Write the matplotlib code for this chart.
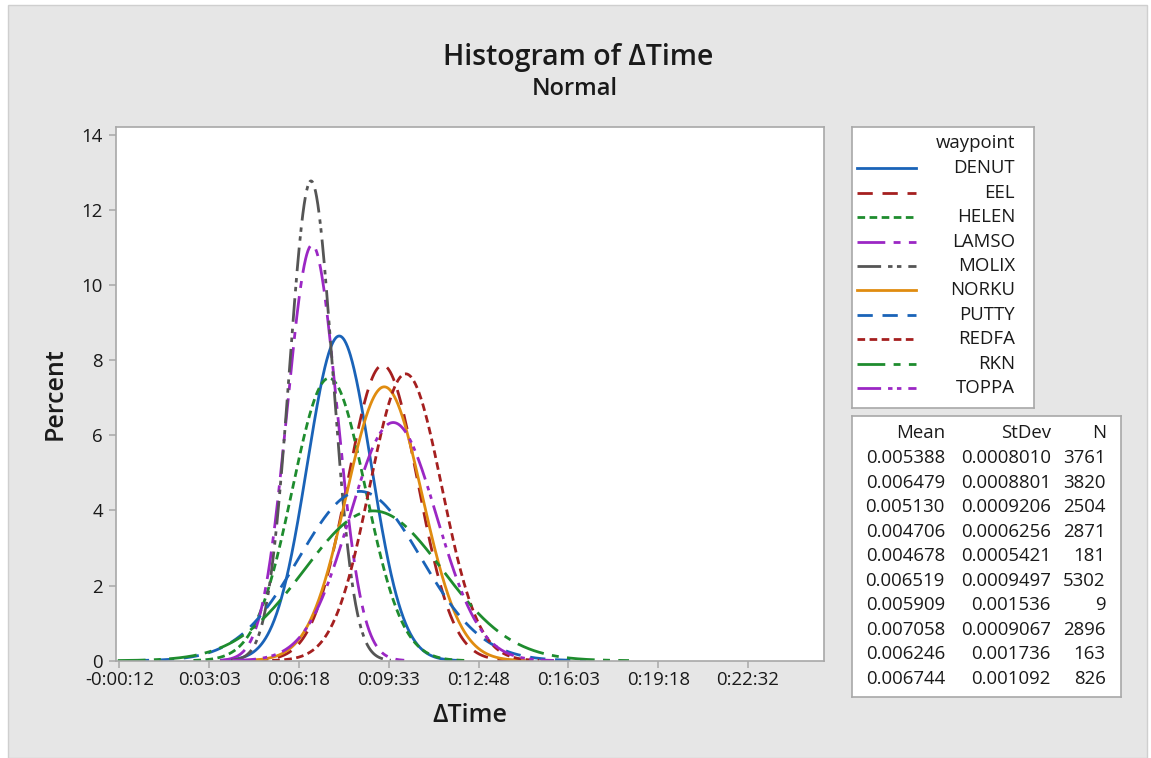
import numpy as np
import matplotlib
matplotlib.use('Agg')
import matplotlib.pyplot as plt
from matplotlib.patches import Rectangle

plt.rcParams['font.family'] = ['Open Sans', 'DejaVu Sans']
plt.rcParams['lines.scale_dashes'] = False

# Dados (tabela do Minitab, em dias)
waypoints = ['DENUT', 'EEL', 'HELEN', 'LAMSO', 'MOLIX', 'NORKU', 'PUTTY', 'REDFA', 'RKN', 'TOPPA']
means = [0.005388, 0.006479, 0.005130, 0.004706, 0.004678, 0.006519, 0.005909, 0.007058, 0.006246, 0.006744]
stdevs = [0.0008010, 0.0008801, 0.0009206, 0.0006256, 0.0005421, 0.0009497, 0.001536, 0.0009067, 0.001736, 0.001092]
counts = [3761, 3820, 2504, 2871, 181, 5302, 9, 2896, 163, 826]
mean_txt = ['0.005388', '0.006479', '0.005130', '0.004706', '0.004678', '0.006519', '0.005909', '0.007058', '0.006246', '0.006744']
sd_txt = ['0.0008010', '0.0008801', '0.0009206', '0.0006256', '0.0005421', '0.0009497', '0.001536', '0.0009067', '0.001736', '0.001092']
xtick_labels = ['-0:00:12', '0:03:03', '0:06:18', '0:09:33', '0:12:48', '0:16:03', '0:19:18', '0:22:32']
ytick_values = [0, 2, 4, 6, 8, 10, 12, 14]

BIN_SECONDS = 15  # largura da classe do histograma
DAY = 86400

cores = ['#1a63b8', '#a51f1f', '#1e8c2e', '#9b27c4', '#555555', '#e08c10', '#1a63b8', '#a51f1f', '#1e8c2e', '#9b27c4']
estilos = ['-', (0, (11, 7)), (0, (5.5, 3.2)), (0, (20, 6, 5, 6)), (0, (17, 5, 3.2, 3.2, 3.2, 5)),
           '-', (0, (11, 7)), (0, (5.5, 3.2)), (0, (20, 6, 5, 6)), (0, (17, 5, 3.2, 3.2, 3.2, 5))]

TXT = '#1a1a1a'
BORDA = '#a8a8a8'
FS = 13.4
PESO = 'medium'


def para_segundos(txt):
    neg = txt.startswith('-')
    h, m, s = txt.lstrip('-').split(':')
    v = int(h) * 3600 + int(m) * 60 + int(s)
    return -v if neg else v


W, H = 1151, 758
fig = plt.figure(figsize=(W / 100, H / 100), dpi=100)
fig.patch.set_facecolor('white')
fig.patches.append(Rectangle((8 / W, 0), (1147 - 8) / W, 1 - 5 / H, transform=fig.transFigure,
                             facecolor='#e6e6e6', edgecolor='#cfcfcf', lw=1, zorder=-10))

ax = fig.add_axes([116 / W, 1 - 660.7 / H, (824 - 116) / W, (660.7 - 126.7) / H])
ax.set_facecolor('white')

xlim = (-19.2, 1518)
for i, nome in enumerate(waypoints):
    mu = means[i] * DAY
    sd = stdevs[i] * DAY
    x = np.linspace(max(mu - 3.7 * sd, xlim[0]), mu + 3.7 * sd, 500)
    y = 100 * BIN_SECONDS * np.exp(-0.5 * ((x - mu) / sd) ** 2) / (sd * np.sqrt(2 * np.pi))
    ax.plot(x, y, color=cores[i], linestyle=estilos[i], lw=2.0, label=nome)

ax.set_xlim(*xlim)
ax.set_ylim(0, 14.22)
ax.set_xticks([para_segundos(t) for t in xtick_labels])
ax.set_xticklabels(xtick_labels, fontweight=PESO)
ax.set_yticks(ytick_values)
ax.set_yticklabels([str(v) for v in ytick_values], fontweight=PESO)
for s in ax.spines.values():
    s.set_color(BORDA)
    s.set_linewidth(1.2)
ax.tick_params(colors=BORDA, labelcolor=TXT, labelsize=FS, length=5, width=1.1)
ax.tick_params(axis='x', pad=2.5)
ax.tick_params(axis='y', pad=4.5)
ax.set_xlabel('ΔTime', fontsize=18, fontweight='semibold', color=TXT, labelpad=10)
ax.set_ylabel('Percent', fontsize=18, fontweight='semibold', color=TXT, labelpad=10)

fig.text(578 / W, 1 - 57 / H, 'Histogram of ΔTime', ha='center', va='center', fontsize=20.5,
         fontweight='semibold', color=TXT)
fig.text(575 / W, 1 - 89 / H, 'Normal', ha='center', va='center', fontsize=17,
         fontweight='semibold', color=TXT)

# Legenda (caixa superior)
leg = fig.add_axes([851.7 / W, 1 - 408.3 / H, (1034 - 851.7) / W, (408.3 - 126.7) / H])
leg.set_xlim(851.7, 1034)
leg.set_ylim(408.3, 126.7)
leg.set_xticks([])
leg.set_yticks([])
for s in leg.spines.values():
    s.set_color(BORDA)
    s.set_linewidth(1.2)
leg.text(1015, 143.3, 'waypoint', ha='right', va='center', fontsize=FS, fontweight=PESO, color=TXT)
for i, nome in enumerate(waypoints):
    yy = 168.3 + i * 24.44
    leg.plot([857.3, 916], [yy, yy], color=cores[i], linestyle=estilos[i], lw=2.0)
    leg.text(1015, yy, nome, ha='right', va='center', fontsize=FS, fontweight=PESO, color=TXT)

# Tabela de estatísticas (caixa inferior)
tab = fig.add_axes([851.7 / W, 1 - 696.7 / H, (1121 - 851.7) / W, (696.7 - 416) / H])
tab.set_xlim(851.7, 1121)
tab.set_ylim(696.7, 416)
tab.set_xticks([])
tab.set_yticks([])
for s in tab.spines.values():
    s.set_color(BORDA)
    s.set_linewidth(1.2)
cols_x = [945, 1050.7, 1105.7]
for cx, cab in zip(cols_x, ['Mean', 'StDev', 'N']):
    tab.text(cx, 433, cab, ha='right', va='center', fontsize=FS, fontweight=PESO, color=TXT)
for i in range(len(waypoints)):
    yy = 458 + i * 24.56
    tab.text(cols_x[0], yy, mean_txt[i], ha='right', va='center', fontsize=FS, fontweight=PESO, color=TXT)
    tab.text(cols_x[1], yy, sd_txt[i], ha='right', va='center', fontsize=FS, fontweight=PESO, color=TXT)
    tab.text(cols_x[2], yy, str(counts[i]), ha='right', va='center', fontsize=FS, fontweight=PESO, color=TXT)

fig.savefig('out.png', dpi=100)
